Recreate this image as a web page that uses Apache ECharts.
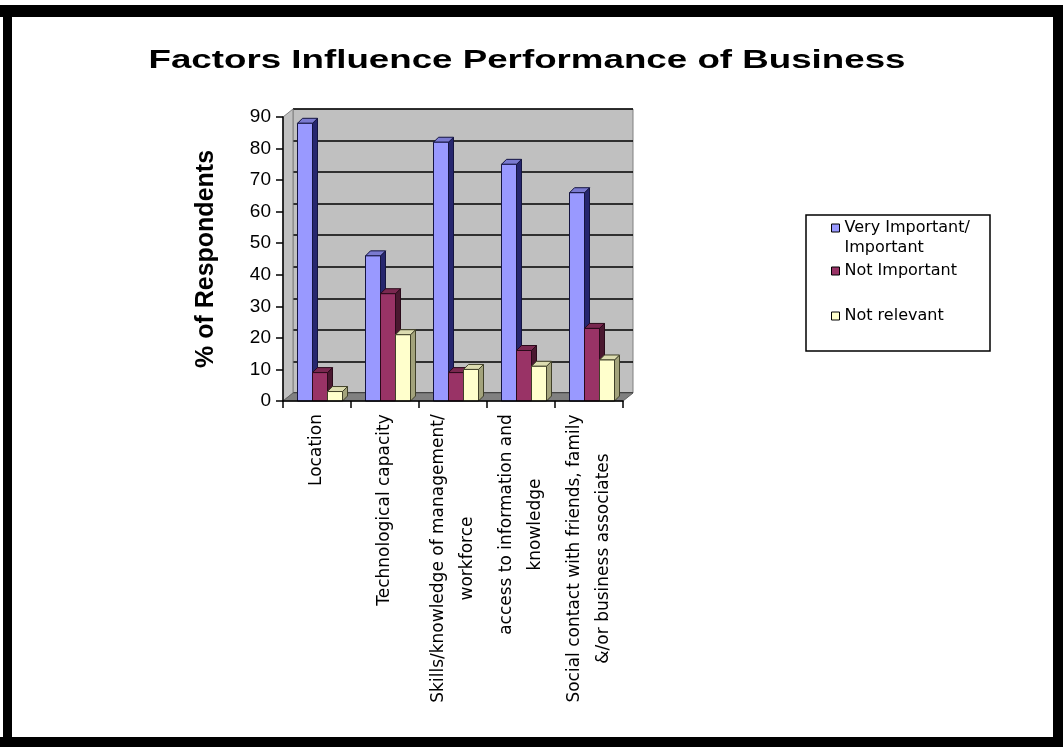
<!DOCTYPE html>
<html>
<head>
<meta charset="utf-8">
<script src="https://cdn.jsdelivr.net/npm/echarts@6/dist/echarts.min.js"></script>
<style>
html,body{margin:0;padding:0;background:#fff;}
#chart{width:1063px;height:747px;}
</style>
</head>
<body>
<div id="chart"></div>
<script>
const titleText = 'Factors Influence Performance of Business';
const yAxisName = '% of Respondents';
const categories = [
  'Location',
  'Technological capacity',
  'Skills/knowledge of management/\nworkforce',
  'access to information and\nknowledge',
  'Social contact with friends, family\n&/or business associates'
];
const seriesNames = ['Very Important/\nImportant', 'Not Important', 'Not relevant'];
const veryImportant = [88, 46, 82, 75, 66];
const notImportant = [9, 34, 9, 16, 23];
const notRelevant = [3, 21, 10, 11, 13];
const yTicks = [0, 10, 20, 30, 40, 50, 60, 70, 80, 90];

const faceColors = ['#9999FF', '#993366', '#FFFFCC'];
const sideColors = ['#26266e', '#4a1830', '#a3a37c'];
const topColors = ['#7a7ad0', '#7a2850', '#dcdcb0'];
const edgeColors = ['#141440', '#2a0a1a', '#404028'];

const labelFontSize = 17;
const labelFamily = 'DejaVu Sans';
const mctx = document.createElement('canvas').getContext('2d');
mctx.font = labelFontSize + 'px "' + labelFamily + '"';
const rich = {};
categories.forEach((c, i) => {
  const w = Math.max(...c.split('\n').map(l => mctx.measureText(l).width));
  rich['c' + i] = {width: Math.ceil(w) + 2, align: 'center', fontFamily: labelFamily,
    fontSize: labelFontSize, lineHeight: 29, color: '#000'};
});

mctx.font = 'bold 26px "Liberation Sans"';
const titleW = mctx.measureText(titleText).width;
const titleScale = 757 / titleW;

const chart = echarts.init(document.getElementById('chart'), null, {renderer: 'canvas'});
const allData = [veryImportant, notImportant, notRelevant];

const BAR_W = 15, DEPTH = 5, STEP = 15, SHIFT = 3;
function makeRender(s) {
  return function (params, api) {
    const cat = api.value(0), val = api.value(1);
    const top = api.coord([cat, val]);
    const base = api.coord([cat, 0]);
    const cx = top[0] + SHIFT + (s - 1) * STEP;
    const x0 = cx - BAR_W / 2, x1 = cx + BAR_W / 2;
    const y0 = top[1], yb = base[1];
    const stroke = {stroke: edgeColors[s], lineWidth: 1};
    return {
      type: 'group',
      children: [
        {type: 'polygon', shape: {points: [[x1, yb], [x1, y0], [x1 + DEPTH, y0 - DEPTH], [x1 + DEPTH, yb - DEPTH]]},
         style: Object.assign({fill: sideColors[s]}, stroke)},
        {type: 'polygon', shape: {points: [[x0, y0], [x0 + DEPTH, y0 - DEPTH], [x1 + DEPTH, y0 - DEPTH], [x1, y0]]},
         style: Object.assign({fill: topColors[s]}, stroke)},
        {type: 'rect', shape: {x: x0, y: y0, width: BAR_W, height: yb - y0},
         style: Object.assign({fill: faceColors[s]}, stroke)}
      ]
    };
  };
}

const legendLH = [20, 16, 16];
const legendTop = [218, 263, 308];
const option = {
  backgroundColor: '#ffffff',
  animation: false,
  grid: [
    {left: 293, right: 430, top: 109, bottom: 354, show: true, backgroundColor: '#C0C0C0',
     borderColor: '#808080', borderWidth: 1, z: 0},
    {left: 283, right: 440, top: 117, bottom: 346, show: false}
  ],
  xAxis: [
    {type: 'category', gridIndex: 0, data: categories, show: false},
    {type: 'category', gridIndex: 1, data: categories, z: 5,
     axisLine: {show: true, lineStyle: {color: '#000', width: 1.5}},
     axisTick: {show: true, length: 7, lineStyle: {color: '#000', width: 1.5}},
     axisLabel: {rotate: 90, margin: 12, interval: 0,
       formatter: (v, i) => v.split('\n').map(l => '{c' + i + '|' + l + '}').join('\n'),
       rich: rich}}
  ],
  yAxis: [
    {type: 'value', gridIndex: 0, min: 0, max: 90, interval: 10,
     axisLine: {show: false}, axisTick: {show: false}, axisLabel: {show: false},
     splitLine: {show: true, lineStyle: {color: '#000', width: 1.5}}},
    {type: 'value', gridIndex: 1, min: 0, max: 90, interval: 10, z: 5,
     name: yAxisName, nameLocation: 'middle', nameGap: 64, nameRotate: 90,
     nameTextStyle: {fontFamily: 'Liberation Sans', fontWeight: 'bold', fontSize: 25, color: '#000'},
     axisLine: {show: true, lineStyle: {color: '#000', width: 1.5}},
     axisTick: {show: true, length: 7, lineStyle: {color: '#000', width: 1.5}},
     axisLabel: {margin: 12, fontFamily: 'Liberation Sans', fontSize: 19, color: '#000',
       formatter: v => (yTicks.indexOf(v) >= 0 ? String(v) : '')},
     splitLine: {show: false}}
  ],
  legend: seriesNames.map((n, i) => {
    const multi = n.indexOf('\n') >= 0;
    const ih = multi ? legendLH[i] + 8 : 8;
    return {
      data: [{name: n,
        icon: multi ? 'path://M0,0L8,0L8,8L0,8Z M0,' + ih : 'rect',
        itemStyle: {color: faceColors[i], borderColor: '#000', borderWidth: 1}}],
      left: 831, top: legendTop[i], orient: 'vertical', padding: 0,
      itemWidth: 8, itemHeight: ih, itemGap: 0,
      textStyle: {fontFamily: 'DejaVu Sans', fontSize: 16, lineHeight: legendLH[i], color: '#000'}
    };
  }),
  graphic: [
    {type: 'rect', shape: {x: 0, y: 5, width: 1063, height: 12}, style: {fill: '#000'}, z: 10},
    {type: 'rect', shape: {x: 3, y: 5, width: 9, height: 742}, style: {fill: '#000'}, z: 10},
    {type: 'rect', shape: {x: 1053, y: 5, width: 10, height: 742}, style: {fill: '#000'}, z: 10},
    {type: 'rect', shape: {x: 0, y: 737, width: 1063, height: 10}, style: {fill: '#000'}, z: 10},
    {type: 'polygon', shape: {points: [[283, 117], [293, 109], [293, 393], [283, 401]]},
     style: {fill: '#C0C0C0', stroke: '#808080', lineWidth: 1}, z: 1},
    {type: 'polygon', shape: {points: [[283, 401], [293, 393], [633, 393], [623, 401]]},
     style: {fill: '#808080', stroke: '#606060', lineWidth: 1}, z: 1},
    {type: 'rect', shape: {x: 806, y: 215, width: 184, height: 136},
     style: {fill: '#fff', stroke: '#000', lineWidth: 1.5}, z: 1},
    {type: 'text', x: 527, y: 61, scaleX: titleScale, originX: 0, originY: 0,
     style: {text: titleText, font: 'bold 26px "Liberation Sans"', fill: '#000',
       textAlign: 'center', textVerticalAlign: 'middle'}, z: 10}
  ],
  series: allData.map((d, i) => ({
    type: 'custom', name: seriesNames[i], xAxisIndex: 1, yAxisIndex: 1, z: 3,
    itemStyle: {color: faceColors[i]},
    renderItem: makeRender(i),
    encode: {x: 0, y: 1},
    data: d.map((v, k) => [k, v])
  }))
};
chart.setOption(option);
</script>
</body>
</html>
